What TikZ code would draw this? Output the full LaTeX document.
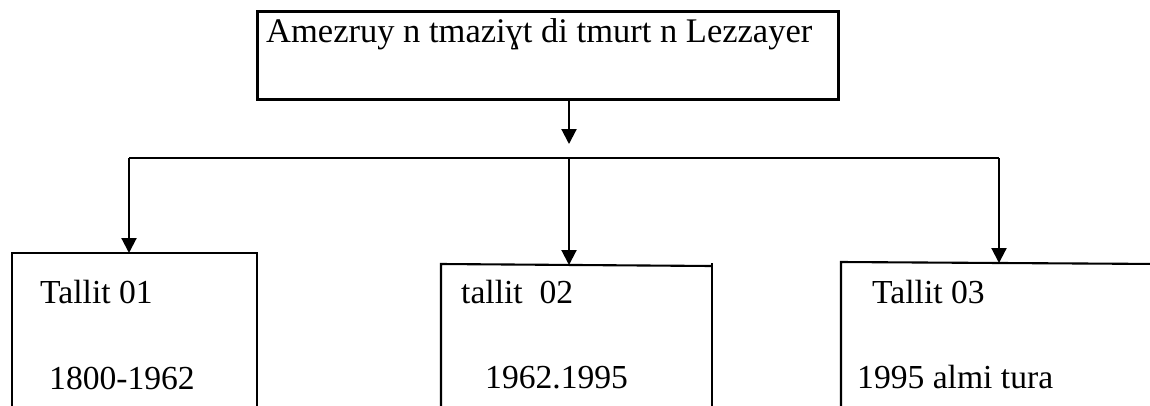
\documentclass[tikz,border=0pt]{standalone}
\usepackage{fontspec}
\setmainfont{Liberation Serif}
\usetikzlibrary{arrows.meta}
\begin{document}
\begin{tikzpicture}[x=1pt,y=-1pt,
  txt/.style={anchor=base west,inner sep=0pt,font=\fontsize{33.6}{40}\selectfont},
  frame/.style={line width=2.8pt},
  openbox/.style={draw=none,inner sep=0pt,anchor=north west},
  edge/.style={line width=2.1pt},
  arr/.style={edge,-{Triangle[width=15pt,length=15pt]}}]
\useasboundingbox (0,0) rectangle (1150,405);
\clip (0,0) rectangle (1150,405);
% top box
\node[draw,frame,inner sep=0pt,minimum width=581pt,minimum height=88pt,anchor=north west] (top) at (256,10) {};
\node[txt,font=\fontsize{34.5}{41}\selectfont] (toptext) at (266,42) {Amezruy n tmaziɣt di tmurt n Lezzayer};
% connector coordinates
\coordinate (a0) at (569,144);
\coordinate (hl) at (129,158);
\coordinate (hm) at (569,158);
\coordinate (hr) at (999,158);
% lower boxes (open at the bottom)
\node[openbox,minimum width=245pt,minimum height=170pt] (b1) at (12,253) {};
\node[openbox,minimum width=271pt,minimum height=160pt] (b2) at (441,265) {};
\node[openbox,minimum width=320pt,minimum height=160pt] (b3) at (841,263) {};
\draw[edge] (b1.south west) -- (b1.north west) -- (b1.north east) -- (b1.south east);
\draw[edge] (b2.south west) -- ([yshift=1pt]b2.north west) -- ([yshift=-1pt]b2.north east);
\draw[edge] ([yshift=2pt]b2.north east) -- (b2.south east);
\draw[edge] (b3.south west) -- ([yshift=1pt]b3.north west) -- ([yshift=-1pt]b3.north east);
% connectors
\draw[arr] (top.south -| a0) -- (a0);
\draw[edge] (hl) -- (hr);
\draw[arr] (hl) -- (hl |- b1.north);
\draw[arr] (hm) -- (hm |- b2.north);
\draw[arr] (hr) -- (hr |- b3.north);
% texts
\node[txt] (t1) at (40,303) {Tallit 01};
\node[txt] (d1) at (49,389) {1800-1962};
\node[txt] (t2) at (461,303) {tallit\ \ 02};
\node[txt] (d2) at (485,388) {1962.1995};
\node[txt] (t3) at (872,303) {Tallit 03};
\node[txt] (d3) at (857,388) {1995 almi tura};
\end{tikzpicture}
\end{document}
